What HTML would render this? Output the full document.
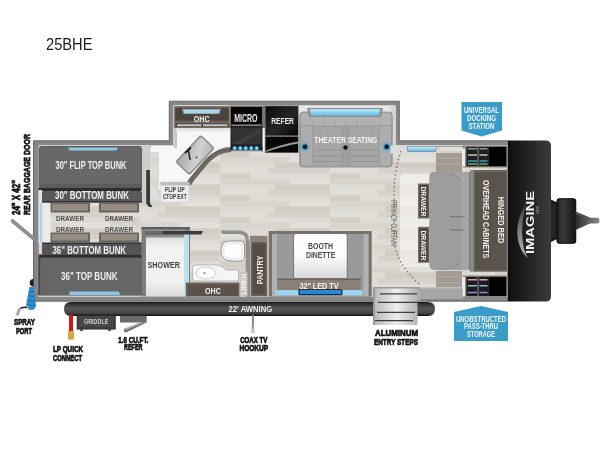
<!DOCTYPE html>
<html><head><meta charset="utf-8">
<style>
html,body{margin:0;padding:0;background:#fff;width:600px;height:450px;overflow:hidden}
svg{display:block;will-change:transform}
text{font-family:"Liberation Sans",sans-serif}
</style></head><body>
<svg width="600" height="450" viewBox="0 0 600 450">
<defs>
  <pattern id="floor" patternUnits="userSpaceOnUse" width="110" height="22" x="0" y="146">
    <rect width="110" height="22" fill="#dbd7d1"/>
    <rect x="0" y="0" width="48" height="5.5" fill="#e1ded9"/>
    <rect x="48" y="0" width="62" height="5.5" fill="#d6d1ca"/>
    <rect x="0" y="5.5" width="30" height="5.5" fill="#d3cec6"/>
    <rect x="30" y="5.5" width="80" height="5.5" fill="#dfdbd6"/>
    <rect x="0" y="11" width="70" height="5.5" fill="#d9d5ce"/>
    <rect x="70" y="11" width="40" height="5.5" fill="#e3e0db"/>
    <rect x="0" y="16.5" width="55" height="5.5" fill="#dedad4"/>
    <rect x="55" y="16.5" width="55" height="5.5" fill="#d2ccc4"/>
  </pattern>
  <linearGradient id="cap" x1="0" x2="1" y1="0" y2="0">
    <stop offset="0" stop-color="#0e0e0e"/><stop offset="1" stop-color="#3c3c3c"/>
  </linearGradient>
  <linearGradient id="awn" x1="0" x2="0" y1="0" y2="1">
    <stop offset="0" stop-color="#141414"/><stop offset="0.14" stop-color="#333"/><stop offset="0.45" stop-color="#535353"/><stop offset="0.8" stop-color="#464646"/><stop offset="0.92" stop-color="#262626"/><stop offset="1" stop-color="#080808"/>
  </linearGradient>
  <linearGradient id="sinkg" x1="0" x2="1" y1="0" y2="1">
    <stop offset="0" stop-color="#a9a9a9"/><stop offset="0.6" stop-color="#d2d2d2"/><stop offset="1" stop-color="#b5b5b5"/>
  </linearGradient>
  <linearGradient id="steps" x1="0" x2="1" y1="0" y2="0">
    <stop offset="0" stop-color="#b8b8b8"/><stop offset="0.5" stop-color="#eeeeee"/><stop offset="1" stop-color="#a8a8a8"/>
  </linearGradient>
  <linearGradient id="tbl" x1="0" x2="0" y1="0" y2="1">
    <stop offset="0" stop-color="#ffffff"/><stop offset="0.5" stop-color="#fbfbfb"/><stop offset="1" stop-color="#d9d9d9"/>
  </linearGradient>
  <linearGradient id="hitch" x1="0" x2="1" y1="0" y2="0">
    <stop offset="0" stop-color="#1e1e1e"/><stop offset="0.3" stop-color="#3a3a3a"/><stop offset="1" stop-color="#151515"/>
  </linearGradient>
  <linearGradient id="coupler" x1="0" x2="1" y1="0" y2="0">
    <stop offset="0" stop-color="#2a2a2a"/><stop offset="1" stop-color="#8a8a8a"/>
  </linearGradient>
  <linearGradient id="lightg" x1="0" x2="0" y1="0" y2="1">
    <stop offset="0" stop-color="#c9eefc"/><stop offset="0.5" stop-color="#86d3f4"/><stop offset="1" stop-color="#63bde6"/>
  </linearGradient>
  <radialGradient id="glow">
    <stop offset="0.5" stop-color="#2aa6e6"/><stop offset="1" stop-color="#2aa6e6" stop-opacity="0"/>
  </radialGradient>
  <linearGradient id="refg" x1="0" x2="1" y1="0" y2="1">
    <stop offset="0" stop-color="#0a0a0a"/><stop offset="0.55" stop-color="#262626"/><stop offset="1" stop-color="#050505"/>
  </linearGradient>
  <linearGradient id="showg" x1="0" x2="0" y1="0" y2="1">
    <stop offset="0" stop-color="#dedede"/><stop offset="0.15" stop-color="#f2f2f2"/><stop offset="0.75" stop-color="#f0f0f0"/><stop offset="1" stop-color="#dcdcdc"/>
  </linearGradient>
  <linearGradient id="swoosh" x1="0" x2="0" y1="0" y2="1">
    <stop offset="0" stop-color="#3a3a3a"/><stop offset="0.6" stop-color="#8a8a8a"/><stop offset="1" stop-color="#b8b8b8"/>
  </linearGradient>
</defs>

<!-- title -->
<text x="46" y="50.4" font-size="15.8" fill="#1a1a1a" textLength="46.5" lengthAdjust="spacingAndGlyphs">25BHE</text>

<!-- floor -->
<path d="M38.5,146 H174 V106 H394 V146 H508 V296.5 H38.5 Z" fill="url(#floor)"/>

<!-- outer walls -->
<path fill-rule="evenodd" fill="#878787" stroke="#5c5c5c" stroke-width="0.9"
 d="M33.5,140.8 H169.3 V101.2 H399.3 V140.8 H508 V301.2 H33.5 Z M38.5,146 V296.5 H508 V146 H394.2 V106 H174 V146 Z"/>
<path fill="none" stroke="#d4d4d4" stroke-width="1" d="M39,297 V145.5 H173.5 V105.5 H394.7 V145.5 H508"/>
<!-- front cap -->
<path d="M508,140.5 H546 Q551,140.5 551,146 V296 Q551,301.5 546,301.5 H508 Z" fill="url(#cap)"/>

<!-- awning -->
<path d="M71,302 H428 Q435,302 435,309 Q435,316 428,316 H71 Q64,316 64,309 Q64,302 71,302 Z" fill="url(#awn)"/>

<!-- ===== BUNK ROOM ===== -->
<!-- partition strip -->
<rect x="142" y="146" width="8" height="60" fill="#cdcdcd"/>
<!-- flip top bunk -->
<rect x="39.5" y="146.5" width="102" height="43.5" rx="2.5" fill="#686868" stroke="#4e4e4e" stroke-width="0.8"/>
<rect x="39.5" y="184" width="102" height="4" fill="#5c5c5c"/>
<path d="M68,147.5 H118 L116.5,150.5 H69.5 Z" fill="#8fc6e4"/>
<rect x="38.5" y="188" width="103" height="3" fill="#2e2e2e"/>
<!-- 30 bottom bunk band -->
<rect x="38.5" y="190" width="3.5" height="14" fill="#e2e2e2"/>
<rect x="42" y="191" width="100" height="11.5" rx="1.5" fill="#5a5a5a"/>
<rect x="42" y="201" width="100" height="1.5" fill="#333"/>
<!-- dark frame bar right -->
<path d="M146.2,170 H150 V203 L152.5,207 H149 L146.2,203.5 Z" fill="#3a3a3a"/>
<text x="55.5" y="169" font-size="10" font-weight="bold" fill="#f0f0f0" textLength="71" lengthAdjust="spacingAndGlyphs">30" FLIP TOP BUNK</text>
<text x="55" y="198.7" font-size="10" font-weight="bold" fill="#f0f0f0" textLength="74" lengthAdjust="spacingAndGlyphs">30" BOTTOM BUNK</text>
<!-- drawers -->
<rect x="50" y="202.5" width="40" height="10" fill="#6b645c"/>
<rect x="52" y="204" width="36" height="6.5" fill="#958d83"/>
<rect x="99" y="202.5" width="40" height="10" fill="#6b645c"/>
<rect x="101" y="204" width="36" height="6.5" fill="#958d83"/>
<rect x="50" y="232.5" width="40" height="10" fill="#6b645c"/>
<rect x="52" y="234" width="36" height="6.5" fill="#958d83"/>
<rect x="99" y="232.5" width="40" height="10" fill="#6b645c"/>
<rect x="101" y="234" width="36" height="6.5" fill="#958d83"/>
<text x="56" y="221" font-size="7.8" font-weight="bold" fill="#4e4e4e" textLength="28" lengthAdjust="spacingAndGlyphs">DRAWER</text>
<text x="105" y="221" font-size="7.8" font-weight="bold" fill="#4e4e4e" textLength="28" lengthAdjust="spacingAndGlyphs">DRAWER</text>
<text x="56" y="232" font-size="7.8" font-weight="bold" fill="#4e4e4e" textLength="28" lengthAdjust="spacingAndGlyphs">DRAWER</text>
<text x="105" y="232" font-size="7.8" font-weight="bold" fill="#4e4e4e" textLength="28" lengthAdjust="spacingAndGlyphs">DRAWER</text>
<!-- door glass -->
<rect x="38.5" y="203" width="12" height="40" fill="#ebebeb"/>
<rect x="39.8" y="203" width="2.5" height="39.7" fill="#a9d3ea"/>
<!-- 36 bottom bunk band -->
<rect x="42" y="242.5" width="100" height="2" fill="#333"/>
<rect x="42" y="244" width="100" height="10.8" rx="1.5" fill="#555"/>
<text x="52.5" y="253.5" font-size="10" font-weight="bold" fill="#f0f0f0" textLength="73.5" lengthAdjust="spacingAndGlyphs">36" BOTTOM BUNK</text>
<!-- 36 top bunk -->
<rect x="38.5" y="254.5" width="103.5" height="41" fill="#2e2e2e"/>
<rect x="39.7" y="257.5" width="101.8" height="38" rx="2" fill="#666" stroke="#4a4a4a" stroke-width="0.8"/>
<path d="M70,291.5 H119 L120,295 H69 Z" fill="#8fc6e4"/>
<text x="61" y="279.5" font-size="10" font-weight="bold" fill="#f0f0f0" textLength="56.5" lengthAdjust="spacingAndGlyphs">36" TOP BUNK</text>
<rect x="38.5" y="295.5" width="469.5" height="1.5" fill="#c9c9c9"/>


<!-- ===== KITCHEN ===== -->
<!-- white inner strip top -->
<rect x="174" y="106" width="220" height="6" fill="#e6e6e6"/>
<!-- counter -->
<path d="M151,146 H174 V127 H300 V149.5 H231 C222,149.5 214,154 207,161 L192,179 L188.5,184 V190 H159 V152 H151 Z" fill="#f7f7f7"/>
<path d="M300,149.5 H231 C222,149.5 214,154 207,161 L192,179 L188.5,184" fill="none" stroke="#6f675f" stroke-width="5"/>
<!-- slideout left wall inner -->
<rect x="174" y="106" width="3" height="42" fill="#c8c8c8"/>
<!-- OHC -->
<rect x="173.8" y="106" width="56.3" height="22.2" fill="#857a6d"/>
<rect x="175.3" y="107.5" width="53.3" height="13.3" fill="#4b443d"/>
<rect x="175.3" y="121" width="53.3" height="2.5" fill="#6e645a"/>
<rect x="175.3" y="123.5" width="53.3" height="3.7" fill="#3e3832"/>
<rect x="177" y="124.3" width="24.5" height="2" fill="#c4c8c8"/>
<rect x="203" y="124.3" width="24.5" height="2" fill="#c4c8c8"/>
<path d="M182,108.7 H221 L219.5,114 H183.5 Z" fill="#9a9a9a"/>
<path d="M183.5,109.8 H219.5 L218.5,113.2 H184.5 Z" fill="#a5d6ec"/>
<text x="193.8" y="121.7" font-size="8.8" font-weight="bold" fill="#f2f2f2" textLength="15.7" lengthAdjust="spacingAndGlyphs">OHC</text>
<rect x="176" y="128.2" width="54" height="3" fill="#e4e4e4"/>
<!-- MICRO / oven -->
<rect x="229.5" y="105.5" width="36" height="22.5" fill="#7c7268"/>
<rect x="231" y="107" width="31" height="17.2" fill="#060606"/>
<text x="234.2" y="121.8" font-size="10" font-weight="bold" fill="#ececec" textLength="23.4" lengthAdjust="spacingAndGlyphs">MICRO</text>
<rect x="262.5" y="128" width="3.5" height="24" fill="#f2f2f2"/>
<rect x="230.5" y="124.5" width="32" height="27" fill="#1e1e1e"/>
<rect x="231.5" y="127.5" width="30" height="17" fill="#333"/>
<path d="M232,144 L261,128 V133 L241,144 Z" fill="#3d3d3d"/>
<rect x="231.5" y="124.8" width="30" height="1.2" fill="#888"/>
<g fill="#39a9d9">
<circle cx="234.7" cy="148.2" r="2.2"/><circle cx="240.2" cy="148.2" r="2.2"/><circle cx="245.7" cy="148.2" r="2.2"/><circle cx="251.2" cy="148.2" r="2.2"/><circle cx="256.7" cy="148.2" r="2.2"/>
</g>
<g fill="#d8f0fa">
<circle cx="234.7" cy="148.2" r="0.9"/><circle cx="240.2" cy="148.2" r="0.9"/><circle cx="245.7" cy="148.2" r="0.9"/><circle cx="251.2" cy="148.2" r="0.9"/><circle cx="256.7" cy="148.2" r="0.9"/>
</g>
<rect x="231" y="150.5" width="31" height="1.3" fill="#e0e0e0"/>
<!-- REFER -->
<rect x="264.8" y="105.5" width="34.5" height="47.5" fill="#6a6a6a"/>
<rect x="265.7" y="106.3" width="32.7" height="29" fill="url(#refg)"/>
<rect x="265.7" y="137" width="32.7" height="15.2" fill="#070707"/>
<path d="M266,150.5 Q282,144 298.4,141.5 V143.5 Q283,146 266,152 Z" fill="#c8c8c8" opacity="0.75"/>
<text x="271.2" y="124.2" font-size="9.8" font-weight="bold" fill="#ececec" textLength="22.8" lengthAdjust="spacingAndGlyphs">REFER</text>
<rect x="298.5" y="106" width="3" height="47" fill="#e8e8e8"/>
<!-- sink -->
<g transform="translate(195,155) rotate(-46.7)">
<rect x="-18.7" y="-9.9" width="37.4" height="19.8" rx="2.5" fill="#8a8a8a"/>
<rect x="-17.2" y="-8.4" width="34.4" height="16.8" rx="2" fill="url(#sinkg)"/>
</g>
<path d="M185.5,152.5 L190.5,148" stroke="#1e1e1e" stroke-width="1.8" stroke-linecap="round"/>
<path d="M188.5,150.5 L190,159.5" stroke="#1e1e1e" stroke-width="1.5" stroke-linecap="round"/>
<circle cx="196.5" cy="157.5" r="0.9" fill="#333"/>
<!-- flip up ctop ext -->
<path d="M160.4,182 H189.2 V199 Q189.2,202.5 185.7,202.5 H163.9 Q160.4,202.5 160.4,199 Z" fill="#ececec" stroke="#c4c4c4" stroke-width="0.5"/>
<rect x="160.6" y="182" width="28.4" height="3.5" fill="#bdbdbd"/>
<text x="174.8" y="191.8" font-size="6.6" font-weight="bold" fill="#383838" text-anchor="middle" textLength="19.6" lengthAdjust="spacingAndGlyphs">FLIP UP</text>
<text x="174.8" y="198.8" font-size="6.6" font-weight="bold" fill="#383838" text-anchor="middle" textLength="23.8" lengthAdjust="spacingAndGlyphs">CTOP EXT</text>
<!-- theater seating -->
<rect x="299" y="106" width="95" height="6" fill="#e6e6e6"/>
<rect x="390.5" y="106" width="5.5" height="47.5" fill="#d5d5d5"/>
<rect x="299.6" y="112" width="92.6" height="55" rx="3.5" fill="#a6a6a6" stroke="#8c8c8c" stroke-width="0.8"/>
<rect x="301" y="113" width="90" height="13" rx="3" fill="#b2b2b2"/>
<g stroke="#9b9b9b" stroke-width="0.6">
<line x1="313" y1="114" x2="313" y2="125"/><line x1="324" y1="114" x2="324" y2="125"/><line x1="335" y1="114" x2="335" y2="125"/><line x1="346" y1="114" x2="346" y2="125"/><line x1="357" y1="114" x2="357" y2="125"/><line x1="368" y1="114" x2="368" y2="125"/><line x1="379" y1="114" x2="379" y2="125"/>
</g>
<rect x="300.5" y="125.5" width="12.5" height="41" rx="3" fill="#adadad" stroke="#8f8f8f" stroke-width="0.7"/>
<rect x="379" y="125.5" width="12.5" height="41" rx="3" fill="#adadad" stroke="#8f8f8f" stroke-width="0.7"/>
<rect x="342" y="125.5" width="7" height="41" rx="1.5" fill="#a0a0a0" stroke="#8f8f8f" stroke-width="0.6"/>
<g stroke="#8e8e8e" stroke-width="0.7">
<line x1="313" y1="126" x2="342" y2="126"/><line x1="349" y1="126" x2="379" y2="126"/>
<line x1="313" y1="150" x2="342" y2="150"/><line x1="349" y1="150" x2="379" y2="150"/>
<line x1="313" y1="156" x2="342" y2="156"/><line x1="349" y1="156" x2="379" y2="156"/>
<line x1="313" y1="161.5" x2="342" y2="161.5"/><line x1="349" y1="161.5" x2="379" y2="161.5"/>
</g>
<g stroke="#9d9d9d" stroke-width="0.5">
<line x1="320" y1="127" x2="320" y2="149"/><line x1="327.5" y1="127" x2="327.5" y2="149"/><line x1="335" y1="127" x2="335" y2="149"/>
<line x1="356" y1="127" x2="356" y2="149"/><line x1="364" y1="127" x2="364" y2="149"/><line x1="371.5" y1="127" x2="371.5" y2="149"/>
</g>
<path d="M307,108 H383 L381,117 H309 Z" fill="#8f8f8f"/>
<path d="M309.7,109.2 H380.3 L378.8,115.6 H311.2 Z" fill="url(#lightg)"/>
<text x="314.3" y="142.6" font-size="9.3" font-weight="bold" fill="#f4f4f4" textLength="63" lengthAdjust="spacingAndGlyphs">THEATER SEATING</text>
<circle cx="305" cy="146.8" r="5" fill="url(#glow)"/><circle cx="305" cy="146.8" r="2.3" fill="#111"/>
<circle cx="386.7" cy="146.8" r="5" fill="url(#glow)"/><circle cx="386.7" cy="146.8" r="2.3" fill="#111"/>
<circle cx="345.5" cy="147.5" r="2.2" fill="#111"/>


<!-- ===== BATH ===== -->
<!-- shower -->
<rect x="141.5" y="227" width="48.5" height="69.5" fill="#7c7c7c"/>
<rect x="145.7" y="229.2" width="39" height="67.3" fill="#8e8e8e"/>
<rect x="146" y="237.5" width="38" height="59" fill="url(#showg)"/>
<rect x="184" y="234" width="5" height="62.5" fill="#bfe0f1"/>
<rect x="141.5" y="227" width="48.5" height="2.2" fill="#5e5e5e"/>
<path d="M145.7,231 H203 L201.5,234.5 H145.7 Z" fill="#3c3c3c"/>
<rect x="145.7" y="231" width="17" height="3.5" fill="#6a6a6a"/>
<text x="147.5" y="267.5" font-size="8.5" font-weight="bold" fill="#444" textLength="32.5" lengthAdjust="spacingAndGlyphs">SHOWER</text>
<!-- curved wall -->
<path d="M223.5,231.7 H239 Q248,231.7 248,241 V296" fill="none" stroke="#8e8e8e" stroke-width="4.6" stroke-linecap="round"/>
<path d="M223.5,229.9 H239 Q249.8,229.9 249.8,241" fill="none" stroke="#dadada" stroke-width="1.3" stroke-linecap="round"/>
<!-- toilet -->
<path d="M229,241 H241 Q244.5,241 244.5,245 V257 Q244.5,261 240,261 H231 Q221,261 221,251 Q221,241 229,241 Z" fill="#f6f6f6" stroke="#8f8f8f" stroke-width="0.9"/>
<path d="M230,243.5 H240 Q242,243.5 242,246 V256 Q242,258.5 239,258.5 H231.5 Q223.5,258.5 223.5,251 Q223.5,243.5 230,243.5 Z" fill="#fdfdfd" stroke="#d4d4d4" stroke-width="0.6"/>
<!-- bath vanity -->
<path d="M195,265 H215 Q222,265 226,270 H238.5 V281 H195 Q192.5,281 192.5,278 V268 Q192.5,265 195,265 Z" fill="#f5f5f5" stroke="#9a9a9a" stroke-width="0.6"/>
<ellipse cx="206" cy="273" rx="10" ry="6" fill="#fcfcfc" stroke="#bdbdbd" stroke-width="0.7"/>
<circle cx="204.5" cy="273" r="0.8" fill="#333"/>
<!-- OHC bath -->
<rect x="185.8" y="282.5" width="54" height="14" fill="#6b6259"/>
<rect x="187.5" y="284.5" width="50.5" height="11.5" fill="#5b534b"/>
<text x="205" y="293.7" font-size="8.5" font-weight="bold" fill="#f0f0f0" textLength="15.8" lengthAdjust="spacingAndGlyphs">OHC</text>
<!-- linen -->
<rect x="239.5" y="271.7" width="8" height="24.5" fill="#c9c3bb"/>
<text transform="translate(246.3,294.5) rotate(-90)" font-size="7.2" font-weight="bold" fill="#f8f8f8" textLength="21" lengthAdjust="spacingAndGlyphs">LINEN</text>
<!-- pantry -->
<rect x="250" y="235.8" width="17.5" height="6" fill="#8b8178"/>
<rect x="250.8" y="241.7" width="16.5" height="54.5" fill="#6b6259"/>
<rect x="252.5" y="243.5" width="13" height="51" fill="#554d46"/>
<text transform="translate(263.3,284.2) rotate(-90)" font-size="8.5" font-weight="bold" fill="#f0f0f0" textLength="28.4" lengthAdjust="spacingAndGlyphs">PANTRY</text>

<!-- ===== DINETTE ===== -->
<rect x="268.7" y="231" width="103" height="65.5" fill="#7a7066"/>
<rect x="272" y="234" width="96.5" height="62.5" fill="#9a9a9a"/>
<rect x="272" y="234" width="5" height="62" fill="#b2b2b2"/>
<rect x="363.5" y="234" width="5" height="62" fill="#b2b2b2"/>
<path d="M296,233.6 H345 Q347.2,233.6 347.2,236 V278.6 H293.6 V236 Q293.6,233.6 296,233.6 Z" fill="url(#tbl)" stroke="#444" stroke-width="0.6"/>
<text x="308" y="249" font-size="9.5" font-weight="bold" fill="#4a4a4a" textLength="25" lengthAdjust="spacingAndGlyphs">BOOTH</text>
<text x="306" y="258" font-size="9.5" font-weight="bold" fill="#4a4a4a" textLength="29.2" lengthAdjust="spacingAndGlyphs">DINETTE</text>
<rect x="277.3" y="278.6" width="83.4" height="11.5" fill="#8a8077"/>
<rect x="277.3" y="278.6" width="83.4" height="1.5" fill="#6b6259"/>
<rect x="275.4" y="290" width="87.2" height="5.5" fill="#9fd4ee"/>
<rect x="298.4" y="289.2" width="44" height="6" rx="1" fill="#1a1a1a"/>
<rect x="299.5" y="290" width="41.8" height="4.2" fill="#2b86d6"/>
<text x="299.4" y="288.8" font-size="8.5" font-weight="bold" fill="#f6f6f6" textLength="39.2" lengthAdjust="spacingAndGlyphs">32" LED TV</text>

<!-- ===== BEDROOM ===== -->
<path d="M390.5,145.5 H437 L436,153.5 H390.5 Z" fill="#dcdcdc"/>
<path d="M406.5,146.3 H437 L435.8,152 H407.5 Z" fill="#8d8d8d"/><path d="M407.5,147 H436 L435,151.3 H408.3 Z" fill="url(#lightg)"/>
<rect x="436" y="153" width="26" height="19" fill="#a39b92"/><path d="M437,158 h24 M437,164 h24" stroke="#b5aea6" stroke-width="1"/>
<rect x="436" y="271" width="26" height="18" fill="#a39b92"/><path d="M437,277 h24 M437,283 h24" stroke="#b5aea6" stroke-width="1"/>
<path d="M405,173.5 H470 V267.5 H405 Q399.7,267.5 399.7,262 V179 Q399.7,173.5 405,173.5 Z" fill="url(#floor)" stroke="#d2cdc6" stroke-width="0.8"/>
<path d="M405,173.5 H470 V267.5 H405 Q399.7,267.5 399.7,262 V179 Q399.7,173.5 405,173.5 Z" fill="#f4f2ee" opacity="0.72"/>
<rect x="418" y="183.5" width="11.5" height="35" fill="#7a7064"/><rect x="419.2" y="184.7" width="9.3" height="32.6" fill="#534b43"/>
<rect x="418" y="226.8" width="11.5" height="36" fill="#7a7064"/><rect x="419.2" y="228" width="9.3" height="33.6" fill="#534b43"/>
<text transform="translate(421.3,186.5) rotate(90)" font-size="7.8" font-weight="bold" fill="#f2f2f2" textLength="30" lengthAdjust="spacingAndGlyphs">DRAWER</text>
<text transform="translate(421.3,230.5) rotate(90)" font-size="7.8" font-weight="bold" fill="#f2f2f2" textLength="30" lengthAdjust="spacingAndGlyphs">DRAWER</text>
<!-- bed -->
<path d="M435,171.7 H470 V270 H435 Q429.3,270 429.3,264 V177 Q429.3,171.7 435,171.7 Z" fill="#9d9d9d"/>
<rect x="461" y="172" width="8.5" height="98" fill="#a5a5a5"/>
<path d="M444,172.5 Q455,175 461.5,180.5" fill="none" stroke="#858585" stroke-width="0.7"/>
<path d="M455,172.5 Q461,175 462,179" fill="none" stroke="#c2c2c2" stroke-width="0.6"/>
<path d="M444,270 Q455,267 461.5,262" fill="none" stroke="#858585" stroke-width="0.7"/>
<rect x="469" y="172" width="2" height="98" fill="#777"/>
<line x1="450" y1="216.7" x2="465" y2="216.7" stroke="#555" stroke-width="0.6"/>
<line x1="450" y1="230" x2="465" y2="230" stroke="#555" stroke-width="0.6"/>
<rect x="470" y="170" width="3.3" height="101.7" fill="#8a8a8a"/>
<!-- overhead cabinets -->
<rect x="473.3" y="170" width="34" height="101.7" fill="#6b655e"/>
<rect x="475" y="172" width="31" height="97.7" fill="#5a544d"/>
<text transform="translate(483.2,180) rotate(90)" font-size="9" font-weight="bold" fill="#f0f0f0" textLength="78.3" lengthAdjust="spacingAndGlyphs">OVERHEAD CABINETS</text>
<text transform="translate(498.3,196.7) rotate(90)" font-size="9" font-weight="bold" fill="#f0f0f0" textLength="46.6" lengthAdjust="spacingAndGlyphs">HINGED BED</text>
<!-- docking cabinets -->
<rect x="462.7" y="145.5" width="44.6" height="22" fill="#8e857b"/>
<rect x="462" y="148.5" width="3" height="18" fill="#e8eef0"/>
<rect x="466.5" y="146.8" width="22" height="19.5" fill="#1c2020"/>
<rect x="488.5" y="146.8" width="17.8" height="19.5" fill="#030303"/>
<rect x="477.6" y="146.8" width="0.9" height="19.5" fill="#9a9a9a"/>
<g stroke-width="1.5">
<path d="M468,148.8 h9 M479.5,148.8 h8" stroke="#8a9a9a"/>
<path d="M468,155 h9 M479.5,155 h8" stroke="#c8c8a0"/>
<path d="M468,161 h9 M479.5,161 h8" stroke="#3aa0b8"/>
<path d="M468,164 h9 M479.5,164 h8" stroke="#5ab070"/>
</g>
<rect x="462.7" y="275.5" width="44.6" height="21.5" fill="#8e857b"/>
<rect x="462" y="277" width="3" height="19.5" fill="#e8eef0"/>
<rect x="466.5" y="276.8" width="22" height="19.2" fill="#1c1c20"/>
<rect x="488.5" y="276.8" width="17.8" height="19.2" fill="#030303"/>
<rect x="477.6" y="276.8" width="0.9" height="19.2" fill="#9a9a9a"/>
<g stroke-width="1.6">
<path d="M468,279.8 h9 M479.5,279.8 h8" stroke="#d8a0b0"/>
<path d="M468,285.8 h9 M479.5,285.8 h8" stroke="#8ac0e8"/>
<path d="M468,292.5 h9 M479.5,292.5 h8" stroke="#9a88d8"/>
</g>
<!-- privacy curtain -->
<path d="M401,151 Q393,175 394,200 V240 Q395,262 420,285" fill="none" stroke="#6a6a6a" stroke-width="1.1" stroke-dasharray="1.6,2.4"/>
<text transform="translate(390.7,200) rotate(90)" font-size="8.2" fill="#5a5a5a" textLength="46" lengthAdjust="spacingAndGlyphs">PRIVACY CURTAIN</text>
<!-- entrance floor -->
<path d="M415,287 H462.7 V299 H420 Z" fill="#a6a6a6"/><path d="M415,287 H462.7 V288.5 H415.3 Z" fill="#c2c2c2"/>
<!-- entry steps -->
<path d="M373,287 H420 L421,300.6 H417.5 V325 H373 Z" fill="url(#steps)"/>
<rect x="373" y="287" width="47" height="1.5" fill="#9a9a9a"/>
<rect x="373" y="287" width="2" height="38" fill="#9a9a9a"/>
<g stroke="#3e3e3e" stroke-width="1.2">
<line x1="380" y1="293.8" x2="417" y2="293.8"/><line x1="378" y1="302.3" x2="418" y2="302.3"/><line x1="377" y1="312.3" x2="415" y2="312.3"/><line x1="375" y1="320.6" x2="413" y2="320.6"/>
</g>
<!-- ===== HITCH ===== -->
<path d="M551,199.5 L558,203 V208 L551,205 Z" fill="#1a1a1a"/>
<path d="M551,242 L558,238.5 V233.5 L551,237 Z" fill="#1a1a1a"/>
<rect x="551" y="204" width="6" height="34" fill="#262626"/>
<rect x="557" y="198.7" width="18.7" height="44.6" rx="2.5" fill="url(#hitch)" stroke="#080808" stroke-width="1.1"/>
<path d="M575.5,211.5 L590,217.8 H597.5 Q599.5,217.8 599.5,220.6 Q599.5,223.5 597.5,223.5 H590 L575.5,230 Z" fill="url(#coupler)"/>
<path d="M575.5,211.5 L590,217.8 V219 L575.5,214 Z" fill="#555"/>
<!-- IMAGINE logo -->
<path d="M527,203 C514,220 514,246 528,258 C520.5,246 520.5,220 527,203 Z" fill="url(#swoosh)"/>
<text transform="translate(534,254) rotate(-90)" font-size="10.8" font-weight="bold" fill="#f2f2f2" textLength="63" lengthAdjust="spacingAndGlyphs">IMAGINE</text>
<text transform="translate(538.5,214) rotate(-90)" font-size="4" fill="#bbb">XLS</text>

<!-- ===== EXTERIOR LABELS ===== -->
<!-- rear baggage door -->
<path d="M12.5,221 L33.5,238.5" stroke="#8f8f8f" stroke-width="3.6" stroke-linecap="round"/>
<g font-weight="bold" fill="#111" stroke="#111" stroke-width="0.7">
<text transform="translate(19.8,215) rotate(-90)" font-size="10" textLength="35" lengthAdjust="spacingAndGlyphs">24" X 42"</text>
<text transform="translate(30.2,215) rotate(-90)" font-size="9.6" textLength="81" lengthAdjust="spacingAndGlyphs">REAR BAGGAGE DOOR</text>
<text x="14" y="325" font-size="8.8" textLength="21" lengthAdjust="spacingAndGlyphs">SPRAY</text>
<text x="16" y="333.6" font-size="8.8" textLength="16" lengthAdjust="spacingAndGlyphs">PORT</text>
<text x="53" y="352" font-size="8.8" textLength="30" lengthAdjust="spacingAndGlyphs">LP QUICK</text>
<text x="53" y="361" font-size="8.8" textLength="29" lengthAdjust="spacingAndGlyphs">CONNECT</text>
<text x="118.3" y="342.5" font-size="8.8" textLength="30" lengthAdjust="spacingAndGlyphs">1.6 CU.FT.</text>
<text x="124" y="350.3" font-size="8.8" textLength="18.5" lengthAdjust="spacingAndGlyphs">REFER</text>
<text x="240.2" y="342.6" font-size="8.8" textLength="27.2" lengthAdjust="spacingAndGlyphs">COAX TV</text>
<text x="239.4" y="350.8" font-size="8.8" textLength="28.8" lengthAdjust="spacingAndGlyphs">HOOKUP</text>
<text x="375" y="336.2" font-size="8.8" textLength="43" lengthAdjust="spacingAndGlyphs">ALUMINUM</text>
<text x="374" y="345.2" font-size="8.8" textLength="44" lengthAdjust="spacingAndGlyphs">ENTRY STEPS</text>
</g>
<!-- spray port hose -->
<path d="M33.5,279 A3.5,3.5 0 0 0 33.5,286.5 Z" fill="#1e1e1e"/>
<path d="M29.5,287 L33.5,286.5 L36,305 Q36,310 31,310 L27,309 Q25.5,306 27,300 Z" fill="#2b8fcf"/>
<g fill="none" stroke="#1c5f8c" stroke-width="0.7">
<path d="M28.5,291 Q31,292.5 34,291.5"/><path d="M28,295.5 Q31,297 34.5,296"/><path d="M27.5,300 Q31,301.5 35,300.5"/><path d="M27,304.5 Q31,306 35.5,305"/>
</g>
<path d="M28,307.5 Q22,306.5 19.5,309" fill="none" stroke="#222" stroke-width="1.5"/>
<path d="M20,308 L17,315.5" stroke="#a8a8a8" stroke-width="3"/>
<rect x="27" y="306" width="1.2" height="3" fill="#e3c04a"/>
<!-- LP -->
<rect x="69" y="315" width="4" height="16" fill="#d01818"/>
<rect x="68" y="331" width="6" height="8.6" fill="#d8a64a"/>
<!-- griddle -->
<rect x="76.7" y="315.8" width="39.1" height="13.8" fill="#3a3a3a"/>
<rect x="78" y="315.8" width="35.7" height="11.5" fill="#474747"/>
<rect x="80" y="329" width="3" height="2" fill="#555"/><rect x="108" y="329" width="3" height="2" fill="#555"/>
<text x="84" y="323.8" font-size="7" font-weight="bold" fill="#cfcfcf" textLength="24.3" lengthAdjust="spacingAndGlyphs">GRIDDLE</text>
<!-- exterior refer -->
<path d="M120,315.8 H146.7 V322.5 H120 Z" fill="#6b6b6b"/>
<path d="M146.7,322.5 L126,332.5 Q123,332 124,329 L140,322.5 Z" fill="#707070"/>
<path d="M140,322.5 L124.5,329 L126,330 L142,323.5 Z" fill="#c8c8c8" opacity="0.7"/>
<!-- coax -->
<rect x="251.9" y="315" width="2" height="12.3" fill="#888"/>
<rect x="251.4" y="327" width="3" height="6" fill="#bdbdbd"/>

<text x="228.6" y="311.8" font-size="8.5" font-weight="bold" fill="#f0f0f0" textLength="43.5" lengthAdjust="spacingAndGlyphs">22' AWNING</text>
<!-- badges -->
<path d="M461.5,102 H502 V130.5 L481.7,136.5 L461.5,130.5 Z" fill="#3a9cc8"/>
<g font-size="8.2" font-weight="bold" fill="#f4f8fb">
<text x="464" y="113" textLength="35" lengthAdjust="spacingAndGlyphs">UNIVERSAL</text>
<text x="467" y="121" textLength="29" lengthAdjust="spacingAndGlyphs">DOCKING</text>
<text x="468.5" y="129" textLength="26" lengthAdjust="spacingAndGlyphs">STATION</text>
</g>
<path d="M454,312 L481,306 L508,312 V341 H454 Z" fill="#3a9cc8"/>
<g font-size="8.2" font-weight="bold" fill="#f4f8fb">
<text x="456" y="321.6" textLength="50" lengthAdjust="spacingAndGlyphs">UNOBSTRUCTED</text>
<text x="464" y="329.3" textLength="34" lengthAdjust="spacingAndGlyphs">PASS-THRU</text>
<text x="467" y="337.1" textLength="28" lengthAdjust="spacingAndGlyphs">STORAGE</text>
</g>
</svg>
</body></html>
